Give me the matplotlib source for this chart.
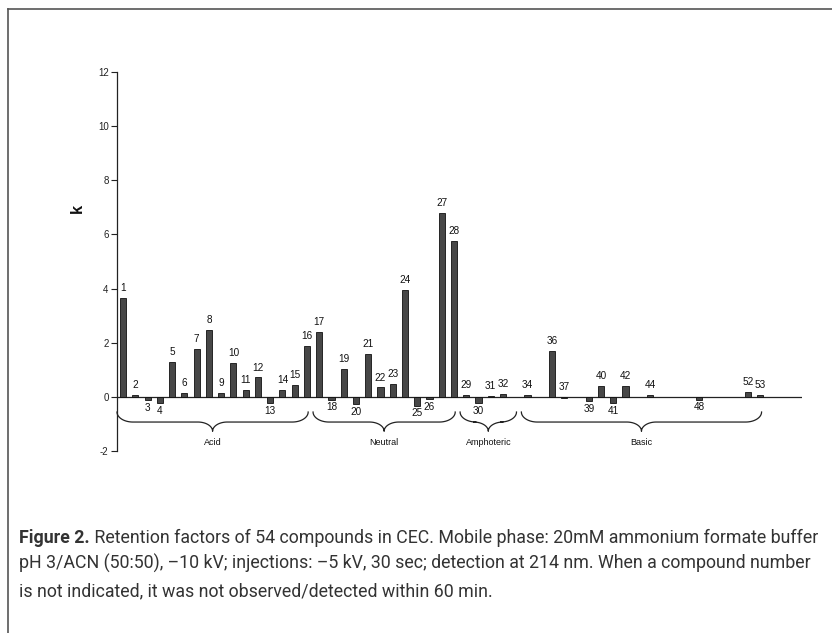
import numpy as np
import matplotlib
matplotlib.use('Agg')
import matplotlib.pyplot as plt
from matplotlib.lines import Line2D

plt.rcParams['font.family'] = ['Liberation Sans', 'DejaVu Sans']
plt.rcParams['axes.unicode_minus'] = False

# compound numbers (only those observed) and their retention factors
compounds = [1, 2, 3, 4, 5, 6, 7, 8, 9, 10, 11, 12, 13, 14, 15, 16,
             17, 18, 19, 20, 21, 22, 23, 24, 25, 26, 27, 28,
             29, 30, 31, 32,
             34, 36, 37, 39, 40, 41, 42, 44, 48, 52, 53]
k = [3.65, 0.07, -0.13, -0.23, 1.30, 0.14, 1.78, 2.46, 0.14, 1.26, 0.26, 0.72, -0.23, 0.26, 0.43, 1.89,
     2.41, -0.10, 1.02, -0.27, 1.60, 0.35, 0.49, 3.95, -0.32, -0.09, 6.79, 5.75,
     0.07, -0.22, 0.02, 0.10,
     0.06, 1.70, -0.04, -0.17, 0.40, -0.23, 0.40, 0.06, -0.10, 0.17, 0.07]

groups = ['Acid', 'Neutral', 'Amphoteric', 'Basic']
group_first = [1, 17, 29, 34]
group_last = [16, 28, 33, 53]

caption = ['Retention factors of 54 compounds in CEC. Mobile phase: 20mM ammonium formate buffer',
           'pH 3/ACN (50:50), \u201310 kV; injections: \u20135 kV, 30 sec; detection at 214 nm. When a compound number',
           'is not indicated, it was not observed/detected within 60 min.']

W, H = 832, 633
fig = plt.figure(figsize=(W / 100, H / 100), dpi=100)
ax = fig.add_axes([117 / W, 1 - 451 / H, (802 - 117) / W, (451 - 72) / H])

ax.bar(compounds, k, width=0.5, color='#474747', edgecolor='#111111', linewidth=0.6, zorder=3)
ax.axhline(0, color='#222222', linewidth=0.9, zorder=2)

for c, v in zip(compounds, k):
    if v < -0.05:
        ax.annotate(str(c), (c, v), xytext=(0, -2), textcoords='offset points',
                    ha='center', va='top', fontsize=7.2, color='#111111')
    else:
        ax.annotate(str(c), (c, max(v, 0)), xytext=(0, 3.5), textcoords='offset points',
                    ha='center', va='bottom', fontsize=7.2, color='#111111')


def brace(x0, x1, ytop=-0.56, yh=-0.93, ytip=-1.27, rx=1.3, rx2=1.2):
    t = np.linspace(0, np.pi / 2, 30)
    mid = (x0 + x1) / 2
    xa = x0 + rx * (1 - np.cos(t))
    ya = ytop - (ytop - yh) * np.sin(t)
    xb = mid - rx2 + rx2 * np.sin(t)
    yb = yh - (yh - ytip) * (1 - np.cos(t))
    xs = np.concatenate([xa, xb, (2 * mid - xb)[::-1], (2 * mid - xa)[::-1]])
    ys = np.concatenate([ya, yb, yb[::-1], ya[::-1]])
    return xs, ys, mid


for name, a, b in zip(groups, group_first, group_last):
    xs, ys, mid = brace(a - 0.5, b + 0.1)
    ax.plot(xs, ys, color='#222222', linewidth=0.9, clip_on=False)
    ax.text(mid, -1.67, name, ha='center', va='center', fontsize=6.5, color='#111111')

ax.set_xlim(0.5, 56.4)
ax.set_ylim(-2, 12)
ax.set_yticks(np.arange(-2, 13, 2))
ax.set_xticks([])
for s in ['top', 'right', 'bottom']:
    ax.spines[s].set_visible(False)
ax.spines['left'].set_color('#222222')
ax.spines['left'].set_linewidth(0.9)
ax.tick_params(axis='y', direction='out', length=4, width=0.8, labelsize=7, pad=2, colors='#222222')

fig.text(77 / W, 1 - 208 / H, 'k', rotation=90, ha='center', va='center',
         fontsize=12, fontweight='bold', color='#111111')

# frame around figure (left and top edges)
fig.add_artist(Line2D([8 / W, 8 / W], [0, 1 - 9 / H], color='#555555', linewidth=1.2))
fig.add_artist(Line2D([8 / W, 1], [1 - 9 / H, 1 - 9 / H], color='#555555', linewidth=1.2))

cap_font = ['Roboto', 'DejaVu Sans']
cap_size = 12.8
baselines = [543, 569, 596]
t1 = fig.text(19 / W, 1 - baselines[0] / H, 'Figure 2.', fontsize=cap_size, fontweight='bold',
              family=cap_font, color='#333333', va='baseline')
ax.annotate(' ' + caption[0], xy=(1, 0), xycoords=t1, ha='left', va='bottom',
            fontsize=cap_size, family=cap_font, color='#333333', annotation_clip=False)
for line, yb in zip(caption[1:], baselines[1:]):
    fig.text(19 / W, 1 - yb / H, line, fontsize=cap_size, family=cap_font, color='#333333', va='baseline')

fig.savefig('out.png', dpi=100)
